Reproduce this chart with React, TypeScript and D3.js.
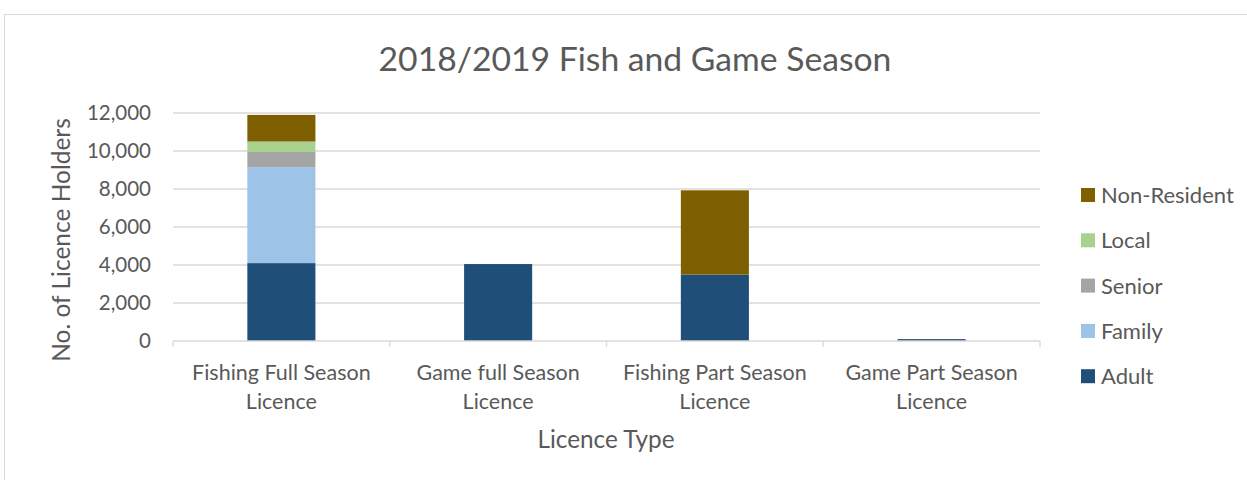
import React from "react";
import * as d3 from "d3";

const categories = [
  ["Fishing Full Season", "Licence"],
  ["Game full Season", "Licence"],
  ["Fishing Part Season", "Licence"],
  ["Game Part Season", "Licence"],
];
const seriesNames = ["Adult", "Family", "Senior", "Local", "Non-Resident"];
const adult = [4100, 4050, 3500, 100];
const family = [5050, 0, 0, 0];
const senior = [800, 0, 0, 0];
const local = [550, 0, 0, 0];
const nonResident = [1400, 0, 4430, 0];
const yTicks = [0, 2000, 4000, 6000, 8000, 10000, 12000];
const colors = ["#1f4e79", "#9dc3e6", "#a5a5a5", "#a9d18e", "#7f6000"];

const W = 1247, H = 480;
const font = "Lato, 'Open Sans', sans-serif";
const textColor = "#595959";

export default function App() {
  const values = [adult, family, senior, local, nonResident];
  const rows = categories.map((c, i) => {
    const r: any = { key: String(i) };
    seriesNames.forEach((s, j) => (r[s] = values[j][i]));
    return r;
  });
  const stack = d3.stack().keys(seriesNames)(rows);
  const x = d3.scaleBand().domain(categories.map((_, i) => String(i))).range([173, 1040]).paddingInner(0.686).paddingOuter(0.343);
  const band = d3.scaleBand().domain(categories.map((_, i) => String(i))).range([173, 1040]);
  const y = d3.scaleLinear().domain([0, 12000]).range([341, 113]);
  const fmt = d3.format(",");
  const legendOrder = [...seriesNames].reverse();
  return (
    <svg width={W} height={H} style={{ position: "absolute", left: 0, top: 0, background: "#fff" }}>
      <rect x={4.5} y={14.5} width={W + 10} height={H + 10} fill="#fff" stroke="#d9d9d9" />
      <text x={635} y={71} textAnchor="middle" fontFamily={font} fontSize={33.7} fill={textColor}>
        2018/2019 Fish and Game Season
      </text>
      {yTicks.map((t) => (
        <g key={t}>
          {t > 0 && <line x1={173} x2={1040} y1={y(t)} y2={y(t)} stroke="#d9d9d9" strokeWidth={1.3} />}
          <text x={151} y={y(t) + 7} textAnchor="end" fontFamily={font} fontSize={20.5} fill={textColor}>
            {fmt(t)}
          </text>
        </g>
      ))}
      {stack.map((s, j) => (
        <g key={s.key} fill={colors[j]}>
          {s.map((d, i) =>
            d[1] - d[0] > 0 ? (
              <rect key={i} x={x(String(i))} width={x.bandwidth()} y={y(d[1])} height={y(d[0]) - y(d[1])} />
            ) : null
          )}
        </g>
      ))}
      <line x1={173} x2={1040} y1={341} y2={341} stroke="#d9d9d9" strokeWidth={1.3} />
      {[...band.domain().map((k) => band(k) as number), 1040].map((px, i) => (
        <line key={i} x1={px} x2={px} y1={341} y2={347} stroke="#d9d9d9" strokeWidth={1.3} />
      ))}
      {categories.map((c, i) => (
        <text key={i} textAnchor="middle" fontFamily={font} fontSize={21.5} fill={textColor}>
          <tspan x={(band(String(i)) as number) + band.bandwidth() / 2} y={380}>{c[0]}</tspan>
          <tspan x={(band(String(i)) as number) + band.bandwidth() / 2} y={409}>{c[1]}</tspan>
        </text>
      ))}
      <text x={606} y={448} textAnchor="middle" fontFamily={font} fontSize={24.3} fill={textColor}>
        Licence Type
      </text>
      <text transform="translate(70,240) rotate(-90)" textAnchor="middle" fontFamily={font} fontSize={24.5} fill={textColor}>
        No. of Licence Holders
      </text>
      {legendOrder.map((s, i) => {
        const yy = 195 + i * 45.3;
        return (
          <g key={s}>
            <rect x={1081} y={yy - 7} width={14} height={14} fill={colors[seriesNames.indexOf(s)]} />
            <text x={1101} y={yy + 8} fontFamily={font} fontSize={22} fill={textColor}>
              {s}
            </text>
          </g>
        );
      })}
    </svg>
  );
}
